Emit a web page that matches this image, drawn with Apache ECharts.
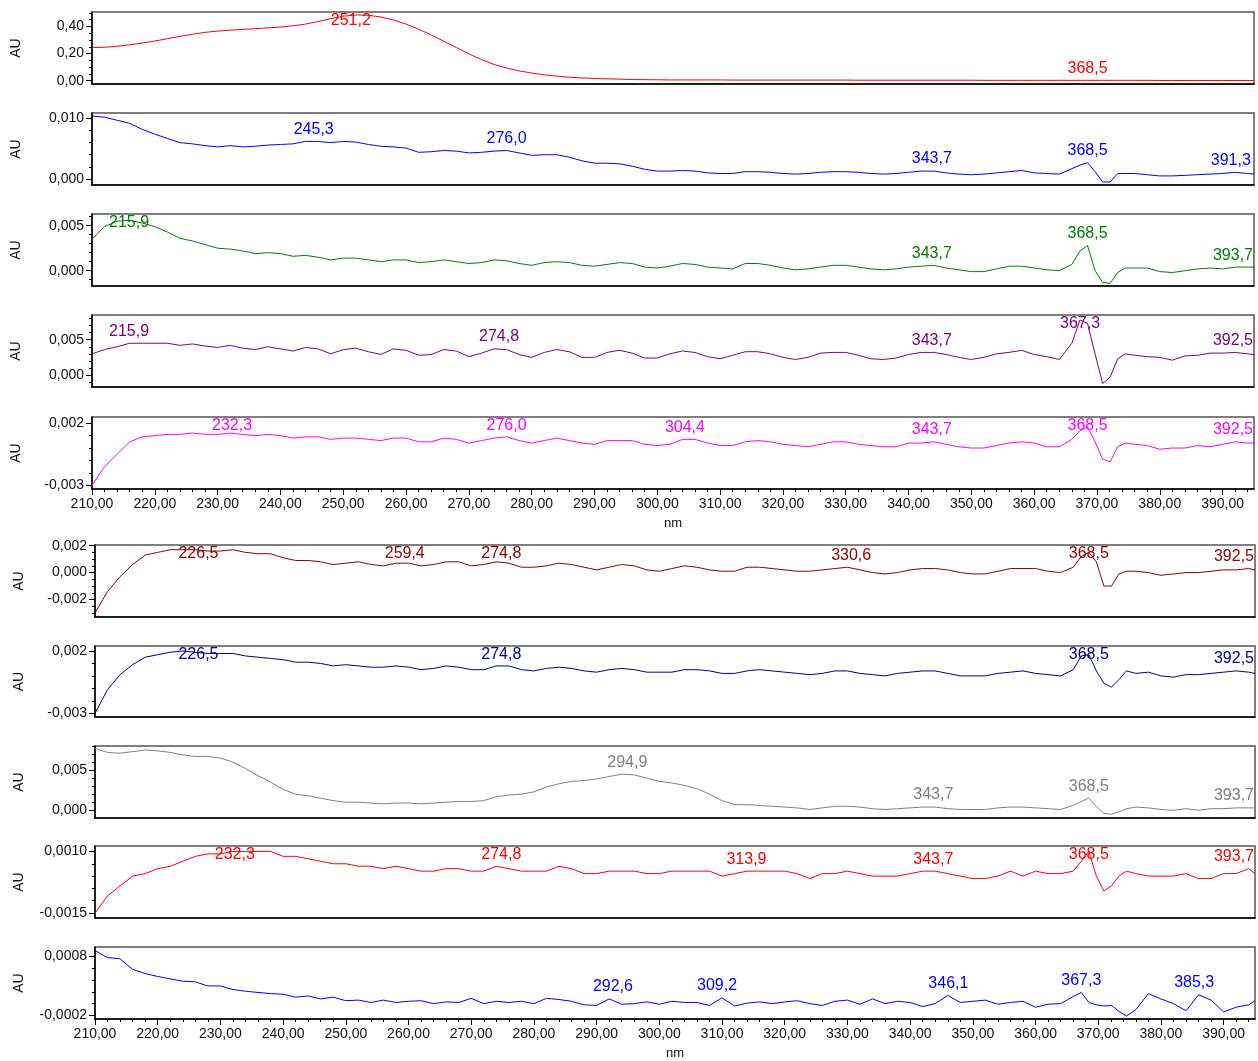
<!DOCTYPE html>
<html><head><meta charset="utf-8">
<script src="https://cdn.jsdelivr.net/npm/echarts@6/dist/echarts.min.js"></script>
<style>html,body{margin:0;padding:0;background:#fff}#c{width:1258px;height:1061px}</style>
</head><body><div id="c"></div>
<script>
// Wavelength grid (nm)
const wavelengths = [210,212,214,216,218,220,222,224,226,228,230,232,234,236,238,240,242,244,246,248,250,252,254,256,258,260,262,264,266,268,270,272,274,276,278,280,282,284,286,288,290,292,294,296,298,300,302,304,306,308,310,312,314,316,318,320,322,324,326,328,330,332,334,336,338,340,342,344,346,348,350,352,354,356,358,360,362,364,366,367.3,368.5,369.7,370.9,372.1,373.3,374.5,376,378,380,382,384,386,388,390,392,394,395];

// Absorbance (AU) of the ten spectra
const au1 = [0.245,0.247,0.254,0.265,0.278,0.293,0.310,0.327,0.343,0.357,0.366,0.373,0.379,0.384,0.390,0.396,0.405,0.418,0.437,0.458,0.476,0.485,0.483,0.470,0.448,0.418,
0.380,0.338,0.292,0.245,0.198,0.156,0.120,0.094,0.073,0.057,0.044,0.034,0.026,0.021,0.017,0.014,0.012,0.009,0.008,0.007,0.006,0.006,0.006,0.006,0.006,0.005,0.005,0.005,0.005,0.005,0.005,0.005,0.005,0.005,0.005,
0.004,0.004,0.004,0.004,0.004,0.004,0.004,0.004,0.004,0.004,0.003,0.003,0.003,0.003,0.003,0.003,0.003,0.003,
0.003,0.003,0.003,0.003,0.003,0.003,0.003,
0.003,0.003,0.002,0.002,0.002,0.002,0.002,0.002,0.002,0.002,0.002];
const au2 = [0.0104,0.0102,0.0097,0.0092,0.0082,0.0074,0.0067,0.0060,0.0058,0.0055,0.0053,0.0055,0.0053,0.0054,0.0056,0.0057,0.0058,0.0062,0.0062,0.0060,0.0062,0.0061,0.0057,0.0054,0.0053,0.0051,
0.0044,0.0045,0.0047,0.0046,0.0043,0.0044,0.0046,0.0047,0.0043,0.0039,0.0040,0.0040,0.0036,0.0030,0.0026,0.0026,0.0025,0.0021,0.0016,0.0013,0.0013,0.0014,0.0013,0.0010,0.0009,0.0009,0.0012,0.0012,0.0011,0.0009,0.0008,0.0009,0.0011,0.0012,0.0012,
0.0011,0.0009,0.0008,0.0009,0.0011,0.0013,0.0013,0.0010,0.0008,0.0007,0.0008,0.0010,0.0012,0.0014,0.0010,0.0009,0.0008,0.0017,
0.0023,0.0027,0.0012,-0.0005,-0.0005,0.0009,0.0009,
0.0009,0.0007,0.0005,0.0005,0.0006,0.0007,0.0008,0.0009,0.0011,0.0009,0.0008];
const au3 = [0.0035,0.0049,0.0055,0.0056,0.0053,0.0049,0.0043,0.0036,0.0033,0.0029,0.0025,0.0024,0.0022,0.0019,0.0020,0.0019,0.0016,0.0017,0.0015,0.0012,0.0014,0.0014,0.0012,0.0010,0.0012,0.0012,
0.0009,0.0010,0.0012,0.0010,0.0008,0.0009,0.0012,0.0011,0.0008,0.0006,0.0009,0.0010,0.0009,0.0006,0.0005,0.0007,0.0009,0.0008,0.0004,0.0003,0.0005,0.0008,0.0007,0.0004,0.0003,0.0002,0.0008,0.0008,0.0006,0.0003,0.0001,0.0002,0.0004,0.0006,0.0006,
0.0004,0.0002,0.0001,0.0002,0.0004,0.0005,0.0006,0.0003,0.0001,-0.0001,-0.0001,0.0002,0.0005,0.0005,0.0003,0.0001,0.0000,0.0007,
0.0022,0.0028,0.0000,-0.0013,-0.0014,-0.0002,0.0003,
0.0003,0.0003,-0.0001,-0.0002,0.0000,0.0002,0.0003,0.0002,0.0004,0.0004,0.0004];
const au4 = [0.0030,0.0036,0.0040,0.0045,0.0045,0.0045,0.0045,0.0042,0.0044,0.0041,0.0039,0.0042,0.0038,0.0036,0.0040,0.0037,0.0034,0.0039,0.0037,0.0030,0.0036,0.0038,0.0033,0.0029,0.0037,0.0035,
0.0028,0.0029,0.0036,0.0034,0.0026,0.0031,0.0037,0.0036,0.0029,0.0025,0.0032,0.0036,0.0033,0.0025,0.0025,0.0032,0.0035,0.0031,0.0024,0.0024,0.0030,0.0034,0.0032,0.0026,0.0023,0.0028,0.0033,0.0033,0.0030,0.0025,0.0022,0.0025,0.0031,0.0032,0.0032,
0.0028,0.0023,0.0022,0.0024,0.0029,0.0032,0.0032,0.0029,0.0025,0.0022,0.0025,0.0030,0.0032,0.0035,0.0029,0.0026,0.0022,0.0045,
0.0078,0.0073,0.0030,-0.0012,-0.0003,0.0023,0.0030,
0.0028,0.0026,0.0025,0.0021,0.0027,0.0028,0.0031,0.0031,0.0032,0.0030,0.0029];
const au5 = [-0.0030,-0.0015,-0.0005,0.0005,0.0009,0.0010,0.0011,0.0011,0.0012,0.0011,0.0011,0.0012,0.0011,0.0010,0.0011,0.0010,0.0008,0.0009,0.0009,0.0007,0.0008,0.0008,0.0007,0.0006,0.0008,0.0008,
0.0005,0.0005,0.0008,0.0007,0.0004,0.0006,0.0008,0.0009,0.0006,0.0004,0.0006,0.0008,0.0006,0.0004,0.0003,0.0006,0.0006,0.0006,0.0003,0.0002,0.0003,0.0007,0.0007,0.0004,0.0002,0.0002,0.0005,0.0006,0.0005,0.0003,0.0002,0.0001,0.0003,0.0005,0.0005,
0.0003,0.0002,0.0001,0.0001,0.0004,0.0004,0.0005,0.0003,0.0001,0.0000,0.0000,0.0002,0.0004,0.0005,0.0004,0.0001,0.0001,0.0007,
0.0014,0.0017,0.0005,-0.0009,-0.0011,0.0001,0.0004,
0.0003,0.0002,-0.0001,0.0000,0.0000,0.0002,0.0001,0.0003,0.0005,0.0004,0.0004];
const au6 = [-0.0030,-0.0014,-0.0003,0.0006,0.0013,0.0015,0.0017,0.0017,0.0017,0.0016,0.0016,0.0017,0.0015,0.0014,0.0014,0.0011,0.0009,0.0009,0.0008,0.0006,0.0007,0.0008,0.0006,0.0005,0.0007,0.0007,
0.0005,0.0006,0.0008,0.0008,0.0005,0.0006,0.0008,0.0007,0.0004,0.0004,0.0005,0.0007,0.0006,0.0004,0.0002,0.0004,0.0006,0.0005,0.0002,0.0001,0.0003,0.0005,0.0004,0.0002,0.0001,0.0001,0.0004,0.0004,0.0003,0.0002,0.0001,0.0001,0.0002,0.0003,0.0004,
0.0002,0.0000,-0.0001,0.0000,0.0002,0.0003,0.0003,0.0002,0.0000,-0.0001,-0.0001,0.0001,0.0003,0.0003,0.0003,0.0001,0.0000,0.0004,
0.0012,0.0015,0.0008,-0.0010,-0.0010,-0.0001,0.0001,
0.0001,0.0000,-0.0002,-0.0001,0.0000,0.0000,0.0001,0.0002,0.0002,0.0003,0.0002];
const au7 = [-0.0030,-0.0011,0.0001,0.0009,0.0015,0.0017,0.0019,0.0020,0.0019,0.0018,0.0018,0.0018,0.0016,0.0015,0.0014,0.0013,0.0011,0.0011,0.0010,0.0008,0.0009,0.0008,0.0007,0.0007,0.0008,0.0007,
0.0005,0.0006,0.0008,0.0007,0.0005,0.0005,0.0008,0.0008,0.0005,0.0004,0.0006,0.0007,0.0006,0.0004,0.0003,0.0005,0.0006,0.0005,0.0003,0.0003,0.0003,0.0005,0.0005,0.0004,0.0002,0.0002,0.0004,0.0005,0.0004,0.0003,0.0002,0.0001,0.0002,0.0004,0.0004,
0.0002,0.0001,0.0000,0.0002,0.0003,0.0004,0.0004,0.0002,0.0000,0.0000,0.0000,0.0002,0.0003,0.0004,0.0002,0.0001,0.0000,0.0005,
0.0016,0.0017,0.0004,-0.0006,-0.0009,-0.0003,0.0004,
0.0002,0.0003,0.0000,-0.0001,0.0001,0.0001,0.0002,0.0003,0.0004,0.0003,0.0002];
const au8 = [0.0077,0.0072,0.0071,0.0073,0.0075,0.0074,0.0072,0.0069,0.0067,0.0067,0.0065,0.0060,0.0052,0.0043,0.0035,0.0026,0.0020,0.0018,0.0015,0.0012,0.0010,0.0010,0.0009,0.0008,0.0009,0.0009,
0.0008,0.0009,0.0010,0.0011,0.0011,0.0012,0.0017,0.0019,0.0020,0.0023,0.0029,0.0033,0.0036,0.0037,0.0039,0.0042,0.0045,0.0044,0.0040,0.0036,0.0034,0.0031,0.0027,0.0020,0.0012,0.0007,0.0007,0.0006,0.0005,0.0004,0.0003,0.0001,0.0003,0.0005,0.0005,
0.0004,0.0002,0.0001,0.0002,0.0003,0.0004,0.0004,0.0002,0.0001,0.0001,0.0001,0.0003,0.0004,0.0004,0.0003,0.0002,0.0001,0.0006,
0.0011,0.0015,0.0005,-0.0004,-0.0005,-0.0002,0.0002,
0.0004,0.0003,0.0001,0.0000,0.0002,0.0000,0.0002,0.0002,0.0003,0.0003,0.0003];
const au9 = [-0.0015,-0.0008,-0.0004,0.0000,0.0001,0.0003,0.0004,0.0006,0.0008,0.0009,0.0009,0.0010,0.0010,0.0010,0.0010,0.0008,0.0008,0.0007,0.0006,0.0005,0.0005,0.0004,0.0004,0.0003,0.0004,0.0003,
0.0002,0.0002,0.0003,0.0003,0.0002,0.0002,0.0004,0.0003,0.0002,0.0002,0.0002,0.0004,0.0003,0.0001,0.0001,0.0002,0.0002,0.0002,0.0001,0.0001,0.0002,0.0002,0.0002,0.0002,0.0000,0.0001,0.0002,0.0002,0.0002,0.0002,0.0001,-0.0001,0.0001,0.0001,0.0002,
0.0001,0.0000,0.0000,0.0000,0.0001,0.0002,0.0002,0.0001,0.0000,-0.0001,-0.0001,0.0000,0.0002,0.0000,0.0002,0.0001,0.0001,0.0002,
0.0006,0.0010,0.0000,-0.0006,-0.0004,0.0000,0.0002,
0.0001,0.0000,0.0000,0.0000,0.0001,-0.0001,-0.0001,0.0001,0.0001,0.0003,0.0001];
const au10 = [0.0009,0.00078,0.00076,0.00058,0.00051,0.00046,0.00042,0.00038,0.00037,0.0003,0.0003,0.00024,0.00021,0.00019,0.00017,0.00016,0.00011,0.00013,0.00008,0.00011,0.00005,0.00006,0.00002,0.00006,0.00002,0.00004,
0.00005,0.0,0.00003,0.00002,0.00009,0.0,0.00004,0.00002,0.00004,0.0,0.00009,0.00007,0.00004,-0.00002,-0.00003,0.00008,-0.00001,0.0,0.00003,-0.00001,0.00004,0.00002,0.00002,-0.00003,0.0001,-0.00004,0.00001,0.00003,0.0,0.00003,0.00005,0.0,-0.00003,0.00004,0.00006,
-0.00001,0.00008,0.0,0.00004,0.00002,-0.00005,0.0,0.00014,0.00002,0.00004,0.00006,-0.00001,0.00002,0.00004,-0.00006,-0.00001,0.0,0.00012,
0.00019,0.00002,-0.00002,-0.00004,-0.00003,-0.00013,-0.00021,
-0.0001,0.00017,0.00008,0.0,-0.00012,0.00015,0.00006,-0.00014,-0.00006,-0.00002,0.00005];

// Peak annotations: [nm, AU at peak]
const peaks1 = [[251.2,0.486],[368.5,0.003]];
const peaks2 = [[245.3,0.0062],[276.0,0.0047],[343.7,0.0013],[368.5,0.0027],[391.3,0.0011]];
const peaks3 = [[215.9,0.0056],[343.7,0.0006],[368.5,0.0028],[393.7,0.0004]];
const peaks4 = [[215.9,0.0045],[274.8,0.0037],[343.7,0.0032],[367.3,0.0078],[392.5,0.0032]];
const peaks5 = [[232.3,0.0012],[276.0,0.0009],[304.4,0.0007],[343.7,0.0005],[368.5,0.0017],[392.5,0.0005]];
const peaks6 = [[226.5,0.0017],[259.4,0.0007],[274.8,0.0008],[330.6,0.0004],[368.5,0.0015],[392.5,0.0003]];
const peaks7 = [[226.5,0.0020],[274.8,0.0008],[368.5,0.0017],[392.5,0.0004]];
const peaks8 = [[294.9,0.0045],[343.7,0.0004],[368.5,0.0015],[393.7,0.0003]];
const peaks9 = [[232.3,0.0010],[274.8,0.0004],[313.9,0.0002],[343.7,0.0002],[368.5,0.0010],[393.7,0.0003]];
const peaks10 = [[292.6,0.00008],[309.2,0.0001],[346.1,0.00014],[367.3,0.00019],[385.3,0.00015]];

// Tick labels
const xTicks = [210,220,230,240,250,260,270,280,290,300,310,320,330,340,350,360,370,380,390];
const yTicks1 = [0,0.2,0.4];
const yTicks2 = [0,0.01];
const yTicks3 = [0,0.005];
const yTicks4 = [0,0.005];
const yTicks5 = [-0.003,0.002];
const yTicks6 = [-0.002,0,0.002];
const yTicks7 = [-0.003,0.002];
const yTicks8 = [0,0.005];
const yTicks9 = [-0.0015,0.001];
const yTicks10 = [-0.0002,0.0008];

const FONT = '"Liberation Sans", Arial, Helvetica, sans-serif';
const LABEL_FONT = '16px ' + FONT;
const X_MIN = 210, X_MAX = 395, X_MINOR = 2;

const panels = [
  {data: au1, peaks: peaks1, ticks: yTicks1, color: '#ff0000', yMin: -0.024, yMax: 0.507, minor: 0.05, dec: 2, top: 12, height: 72, group: 0},
  {data: au2, peaks: peaks2, ticks: yTicks2, color: '#0000ff', yMin: -0.001, yMax: 0.0109, minor: 0.002, dec: 3, top: 113, height: 72, group: 0},
  {data: au3, peaks: peaks3, ticks: yTicks3, color: '#008000', yMin: -0.0017, yMax: 0.0063, minor: 0.001, dec: 3, top: 214, height: 72, group: 0},
  {data: au4, peaks: peaks4, ticks: yTicks4, color: '#800080', yMin: -0.0017, yMax: 0.0085, minor: 0.001, dec: 3, top: 315, height: 72, group: 0},
  {data: au5, peaks: peaks5, ticks: yTicks5, color: '#ff00ff', yMin: -0.0033, yMax: 0.0025, minor: 0.001, dec: 3, top: 417, height: 72, group: 0, bottomAxis: true},
  {data: au6, peaks: peaks6, ticks: yTicks6, color: '#8b0000', yMin: -0.0033, yMax: 0.00205, minor: 0.0005, dec: 3, top: 545, height: 72, group: 1},
  {data: au7, peaks: peaks7, ticks: yTicks7, color: '#00008b', yMin: -0.0033, yMax: 0.0024, minor: 0.001, dec: 3, top: 646, height: 71, group: 1},
  {data: au8, peaks: peaks8, ticks: yTicks8, color: '#808080', yMin: -0.00096, yMax: 0.0080, minor: 0.001, dec: 3, top: 746, height: 72, group: 1},
  {data: au9, peaks: peaks9, ticks: yTicks9, color: '#ff0000', yMin: -0.0017, yMax: 0.00122, minor: 0.0005, dec: 4, top: 846, height: 72, group: 1},
  {data: au10, peaks: peaks10, ticks: yTicks10, color: '#0000ff', yMin: -0.00026, yMax: 0.00096, minor: 0.0002, dec: 4, top: 947, height: 72, group: 1, bottomAxis: true}
];
const groupLayout = [{left: 92, width: 1162}, {left: 95, width: 1160}];

function stepValues(min, max, step) {
  const out = [];
  let v = Math.ceil(min / step - 1e-9) * step;
  for (; v <= max + 1e-12; v += step) out.push(+v.toFixed(8));
  return out;
}
const xMinorTicks = stepValues(X_MIN, X_MAX - 0.5, X_MINOR);
const fmtComma = (v, d) => v.toFixed(d).replace('.', ',');
const measureCtx = document.createElement('canvas').getContext('2d');
measureCtx.font = LABEL_FONT;
const textWidth = t => measureCtx.measureText(t).width;

const grid = [], xAxis = [], yAxis = [], series = [];
const N = panels.length;
panels.forEach((p, i) => {
  const g = groupLayout[p.group];
  grid[i] = {left: g.left, width: g.width, top: p.top, height: p.height, show: true,
    borderColor: '#555', borderWidth: 1.5, containLabel: false, outerBoundsMode: 'none'};
  grid[i + N] = {left: g.left, width: g.width, top: p.top, height: p.height, show: false,
    containLabel: false, outerBoundsMode: 'none'};
  const b = !!p.bottomAxis;
  xAxis[i] = {type: 'value', gridIndex: i, min: X_MIN, max: X_MAX, position: 'bottom',
    axisLine: {show: true, onZero: false, lineStyle: {color: '#000', width: 1.5}},
    axisTick: {show: b, customValues: xTicks, length: 6, lineStyle: {color: '#000'}},
    axisLabel: {show: b, customValues: xTicks, formatter: v => fmtComma(v, 2), margin: 8,
      fontSize: 14, color: '#111', fontFamily: FONT},
    splitLine: {show: false},
    name: b ? 'nm' : '', nameLocation: 'middle', nameGap: 28,
    nameTextStyle: {fontSize: 13, color: '#111', fontFamily: FONT}};
  xAxis[i + N] = {type: 'value', gridIndex: i + N, min: X_MIN, max: X_MAX, position: 'bottom',
    axisLine: {show: false, onZero: false}, axisLabel: {show: false}, splitLine: {show: false},
    axisTick: {show: b, customValues: xMinorTicks, length: 3, lineStyle: {color: '#000'}}};
  yAxis[i] = {type: 'value', gridIndex: i, min: p.yMin, max: p.yMax, position: 'left',
    axisLine: {show: true, onZero: false, lineStyle: {color: '#000', width: 1.5}},
    axisTick: {show: true, customValues: p.ticks, length: 6, lineStyle: {color: '#000'}},
    axisLabel: {show: true, customValues: p.ticks, formatter: v => fmtComma(v, p.dec), margin: 8,
      fontSize: 14, color: '#111', fontFamily: FONT},
    splitLine: {show: false},
    name: 'AU', nameLocation: 'middle', nameGap: 69,
    nameTextStyle: {fontSize: 14, color: '#111', fontFamily: FONT}};
  yAxis[i + N] = {type: 'value', gridIndex: i + N, min: p.yMin, max: p.yMax, position: 'left',
    axisLine: {show: false, onZero: false}, axisLabel: {show: false}, splitLine: {show: false},
    axisTick: {show: true, customValues: stepValues(p.yMin, p.yMax, p.minor), length: 3, lineStyle: {color: '#000'}}};

  series.push({type: 'line', xAxisIndex: i, yAxisIndex: i,
    data: wavelengths.map((w, k) => [w, p.data[k]]),
    showSymbol: false, symbol: 'none', lineStyle: {color: p.color, width: 1}, itemStyle: {color: p.color},
    animation: false, silent: true, z: 3});
  series.push({type: 'custom', xAxisIndex: i, yAxisIndex: i, coordinateSystem: 'cartesian2d',
    data: p.peaks, clip: false, silent: true, animation: false, z: 5,
    renderItem: (params, api) => {
      const pt = api.coord([api.value(0), api.value(1)]);
      const cs = params.coordSys;
      const text = fmtComma(api.value(0), 1);
      const half = textWidth(text) / 2;
      let x = pt[0];
      if (x + half > cs.x + cs.width - 1) x = cs.x + cs.width - 1 - half;
      if (x - half < cs.x + 1) x = cs.x + 1 + half;
      let yb = pt[1] - 4;
      if (yb - 17 < cs.y) yb = cs.y + 17;
      return {type: 'text', x: x, y: yb,
        style: {text: text, fill: p.color, font: LABEL_FONT, align: 'center', verticalAlign: 'bottom'}};
    }});
});

const chart = echarts.init(document.getElementById('c'), null, {renderer: 'canvas'});
chart.setOption({animation: false, backgroundColor: '#fff', grid, xAxis, yAxis, series});
</script></body></html>
